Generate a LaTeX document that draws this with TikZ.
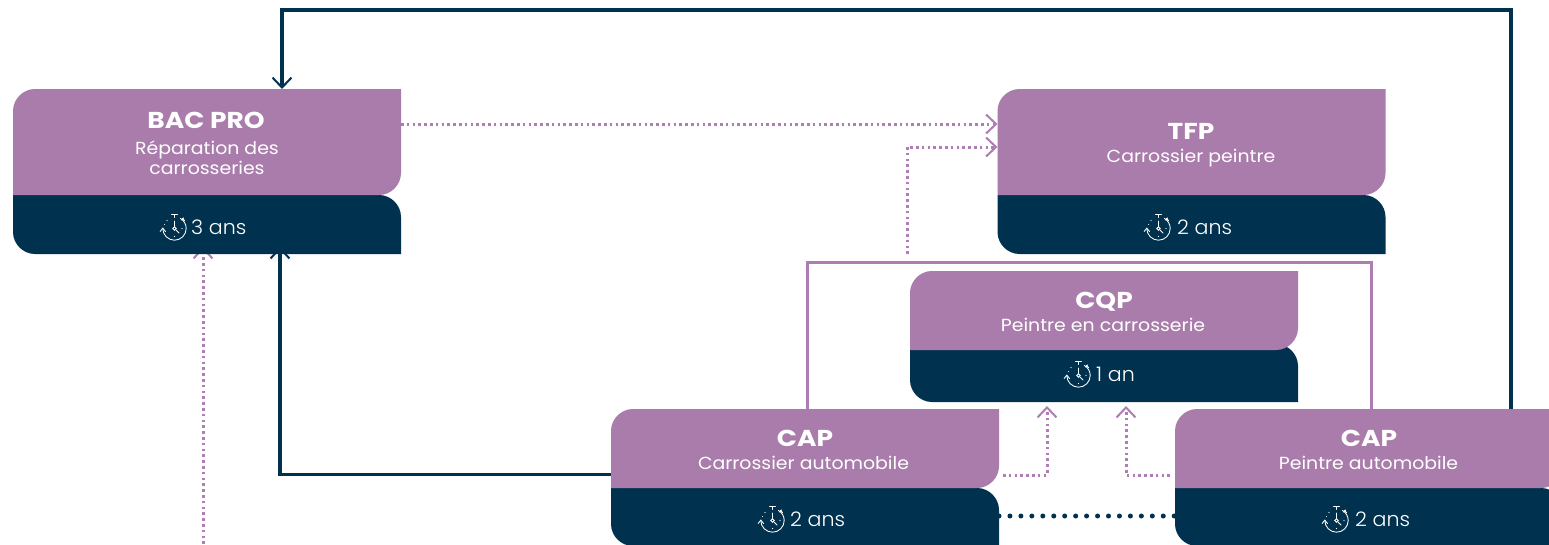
\documentclass[tikz,border=0pt]{standalone}
\usepackage{fontspec}
\setmainfont{Poppins}
\newfontfamily\widebold[FakeStretch=1.15]{Poppins Bold}
\newfontfamily\widereg[FakeStretch=1.08]{Poppins}
\newfontfamily\lightfont[FakeStretch=1.03]{Poppins Light}
\usetikzlibrary{arrows.meta}
\definecolor{cardpurple}{HTML}{A97CAB}
\definecolor{carddark}{HTML}{00324F}
\definecolor{linepurple}{HTML}{AE7DB4}
\tikzset{
  geo/.style={rectangle,inner sep=0pt,outer sep=0pt,minimum width=#1},
  barb/.style={-{Straight Barb[length=10pt,width=19pt,line width=2pt]}},
  darkline/.style={draw=carddark,line width=3.2pt},
  solidpurple/.style={draw=linepurple,line width=3pt},
  dotpurple/.style={draw=linepurple,line width=3pt,dash pattern=on 2.6pt off 3.2pt},
  dotdark/.style={draw=carddark,line width=5pt,line cap=round,dash pattern=on 0pt off 10.95pt},
  titletext/.style={text=white,align=center,font=\widebold\fontsize{23}{23}\selectfont},
  cardtext/.style={text=white,align=center,font=\widereg\fontsize{17.5}{20}\selectfont},
  timetext/.style={text=white,anchor=west,inner sep=0pt,font=\lightfont\fontsize{20}{20}\selectfont},
}
% upper part of a card: round top left and bottom right corners
\newcommand{\uppercard}[1]{%
  \fill[cardpurple] (#1.south west) -- ([yshift=-22pt]#1.north west)
    .. controls ([yshift=-10pt]#1.north west) and ([xshift=10pt]#1.north west) .. ([xshift=22pt]#1.north west)
    -- (#1.north east) -- ([yshift=22pt]#1.south east)
    .. controls ([yshift=10pt]#1.south east) and ([xshift=-10pt]#1.south east) .. ([xshift=-22pt]#1.south east)
    -- cycle;}
% lower part of a card: round top right and bottom left corners
\newcommand{\lowercard}[1]{%
  \fill[carddark] (#1.north west) -- ([xshift=-22pt]#1.north east)
    .. controls ([xshift=-10pt]#1.north east) and ([yshift=-10pt]#1.north east) .. ([yshift=-22pt]#1.north east)
    -- (#1.south east) -- ([xshift=22pt]#1.south west)
    .. controls ([xshift=10pt]#1.south west) and ([yshift=10pt]#1.south west) .. ([yshift=22pt]#1.south west)
    -- cycle;}
\newcommand{\watch}[2]{%
  \begin{scope}[shift={(#1,#2)},yscale=-1,draw=white,line width=.85pt,line cap=round]
    \draw (-11.7,0) arc[start angle=180,end angle=420,radius=11.7];
    \draw (-14.4,-3) -- (-11.7,0.4) -- (-9,-3);
    \draw (-3,14) -- (3,14) (0,14) -- (0,11);
    \draw (8,10) -- (10,8) (7,8.5) -- (9,10.5);
    \draw (0,7.5) -- (0,2) (1.3,-1.3) -- (4.5,-4.5);
    \draw (0,0) circle (1.8);
    \fill[white] (-7.5,8) circle (.6) (-10,4) circle (.5) (7.5,0) circle (.6) (0,-8) circle (.6);
  \end{scope}}
\begin{document}
\begin{tikzpicture}[x=1pt,y=-1pt]
\path[use as bounding box] (0,0) rectangle (1549,544);
\clip (0,0) rectangle (1549,544);
\fill[white] (0,0) rectangle (1549,544);
% geometry
\node[geo=388pt,minimum height=106pt] (bacU) at (207,142) {};
\node[geo=388pt,minimum height=59pt] (bacL) at (207,224.5) {};
\node[geo=388pt,minimum height=106pt] (tfpU) at (1191.5,142) {};
\node[geo=388pt,minimum height=59pt] (tfpL) at (1191.5,224.5) {};
\node[geo=388pt,minimum height=79pt] (cqpU) at (1104,310.5) {};
\node[geo=388pt,minimum height=58pt] (cqpL) at (1104,373) {};
\node[geo=388pt,minimum height=79pt] (capaU) at (805,448.5) {};
\node[geo=388pt,minimum height=58pt] (capaL) at (805,517) {};
\node[geo=388pt,minimum height=79pt] (capbU) at (1369,448.5) {};
\node[geo=388pt,minimum height=58pt] (capbL) at (1369,517) {};
\coordinate (belowbac) at (203,544);
% connectors
\draw[darkline,barb] (capbU.north -| 1511,0) |- (282,10) -- (bacU.north -| 282,0);
\draw[darkline,barb] (capaU.west |- 0,474.5) -| ([yshift=7pt]bacL.south -| 280,0);
\draw[solidpurple] (capaU.north -| 807,0) |- (1371,262) -- (capbU.north -| 1371,0);
\draw[dotpurple,barb] (belowbac) -- ([yshift=7pt]bacL.south -| 203,0);
\draw[dotpurple,barb] (bacU.east |- 0,124) -- (tfpU.west |- 0,124);
\draw[dotpurple,barb] (tfpL.south -| 907,0) |- (tfpU.west |- 0,147);
\draw[dotpurple,barb] ([xshift=4pt]capaU.east |- 0,475) -| ([yshift=-4pt]cqpL.south -| 1047,0);
\draw[dotpurple,barb] ([xshift=-5pt]capbU.west |- 0,475) -| ([yshift=-4pt]cqpL.south -| 1126,0);
\draw[dotdark] (capaL.east |- 0,516) -- (capbL.west |- 0,516);
% cards
\lowercard{cqpL}\uppercard{cqpU}
\lowercard{bacL}\uppercard{bacU}
\lowercard{tfpL}\uppercard{tfpU}
\lowercard{capaL}\uppercard{capaU}
\lowercard{capbL}\uppercard{capbU}
% texts
\node[titletext] (bacT) at (206,120) {BAC PRO};
\node[cardtext] (bacS) at (207,158) {Réparation des\\carrosseries};
\node[titletext] (tfpT) at (1191,131) {TFP};
\node[cardtext] (tfpS) at (1191,158.5) {Carrossier peintre};
\node[titletext] (cqpT) at (1104,302) {CQP};
\node[cardtext] (cqpS) at (1103,325) {Peintre en carrosserie};
\node[titletext] (capaT) at (805,438) {CAP};
\node[cardtext] (capaS) at (803.5,463) {Carrossier automobile};
\node[titletext] (capbT) at (1369,438) {CAP};
\node[cardtext] (capbS) at (1368.5,463) {Peintre automobile};
\watch{174.5}{228.5}\node[timetext] (bacD) at (191,227) {3 ans};
\watch{1158.5}{228.5}\node[timetext] (tfpD) at (1177,227) {2 ans};
\watch{1078.5}{375.5}\node[timetext] (cqpD) at (1096,374) {1 an};
\watch{772.5}{520.5}\node[timetext] (capaD) at (790,519) {2 ans};
\watch{1336.5}{520.5}\node[timetext] (capbD) at (1355,519) {2 ans};
\end{tikzpicture}
\end{document}
